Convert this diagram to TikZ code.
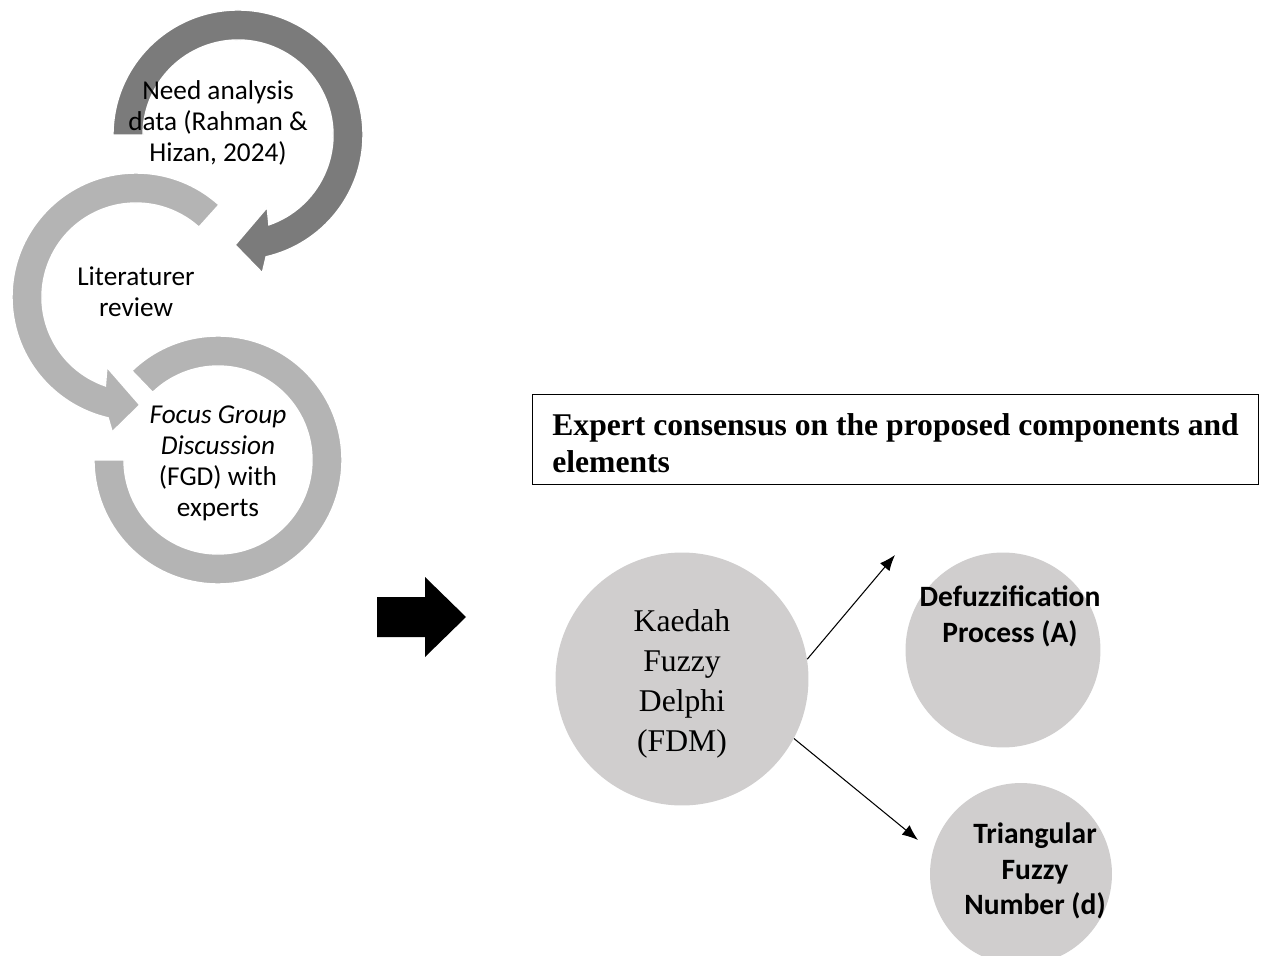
\documentclass[tikz,border=0pt]{standalone}
\usepackage{fontspec}
\setmainfont{Carlito}
\newfontfamily\timesfont{Liberation Serif}
\usetikzlibrary{calc,arrows.meta}
\definecolor{fdmgray}{HTML}{D0CECE}
\definecolor{arcdark}{HTML}{7B7B7B}
\definecolor{arclight}{HTML}{B4B4B4}

\begin{document}
\begin{tikzpicture}[x=0.02cm,y=0.02cm,
  darkarc/.style={fill=arcdark, draw=white, line width=0.8pt},
  lightarc/.style={fill=arclight, draw=white, line width=0.8pt},
  stage/.style={align=center, font=\fontsize{15.5}{17.6}\selectfont},
  bubble/.style={circle, fill=fdmgray, inner sep=0pt},
  result/.style={align=center, font=\bfseries\fontsize{16.8}{20.4}\selectfont}]
  \useasboundingbox (0,0) rectangle (1262,-956);
  \coordinate (c1) at (238,-135);
  \coordinate (c2) at (136,-297);
  \coordinate (c3) at (218,-460);
  % circular arrows
  \path[lightarc] (c3) ++(134:124) arc[start angle=134, end angle=-180, radius=124]
    -- ($(c3)+(180:94)$) arc[start angle=-180, end angle=134, radius=94] -- cycle;
  \path[lightarc] (c2) ++(48:124) arc[start angle=48, end angle=257, radius=124]
    -- ($(c2)+(260:137)$) -- ($(c2)+(272:108)$) -- ($(c2)+(247.5:76)$)
    -- ($(c2)+(251:94)$) arc[start angle=251, end angle=48, radius=94] -- cycle;
  \path[darkarc] (c1) ++(180:125) arc[start angle=180, end angle=-77, radius=125]
    -- ($(c1)+(-80:140)$) -- ($(c1)+(-91.5:110)$) -- ($(c1)+(-68:78)$)
    -- ($(c1)+(-71:95)$) arc[start angle=-71, end angle=180, radius=95] -- cycle;
  \node[stage] (need) at (218,-123) {Need analysis\\data (Rahman \&\\Hizan, 2024)};
  \node[stage] (lit) at (136,-292) {Literaturer\\review};
  \node[stage] (fgd) at (218,-463) {\textit{Focus Group}\\\textit{Discussion}\\(FGD) with\\experts};
  % block arrow
  \fill (377,-597) -- (425,-597) -- (425,-577) -- (466,-617) -- (425,-657) -- (425,-637) -- (377,-637) -- cycle;
  \node[draw, line width=0.6pt, anchor=north west, minimum width=14.52cm, minimum height=1.8cm]
    (consensus) at (532,-394) {};
  \node[anchor=west, inner sep=0pt, align=flush left,
    font=\timesfont\bfseries\fontsize{18}{21}\selectfont] (consensustxt) at (552,-443)
    {Expert consensus on the proposed components and\\elements};
  \node[bubble, minimum size=5.06cm] (fdm) at (682,-679) {};
  \node[align=center, font=\timesfont\fontsize{18}{22.7}\selectfont]
    (fdmtxt) at (682,-684) {Kaedah\\Fuzzy\\Delphi\\(FDM)};
  \node[bubble, minimum size=3.9cm] (defuzz) at (1003,-650) {};
  \node[bubble, minimum size=3.64cm] (tfn) at (1021,-874) {};
  \node[result] (defuzztxt) at (1010,-616) {Defuzzification\\Process (A)};
  \node[result] (tfntxt) at (1035,-871) {Triangular\\Fuzzy\\Number (d)};
  \coordinate (toA) at (895,-555);
  \coordinate (tod) at (918,-840);
  \path[-{Latex[length=9pt,width=7pt]}, line width=0.6pt]
    (fdm.9) edge (toA) (fdm.-28) edge (tod);
\end{tikzpicture}
\end{document}
